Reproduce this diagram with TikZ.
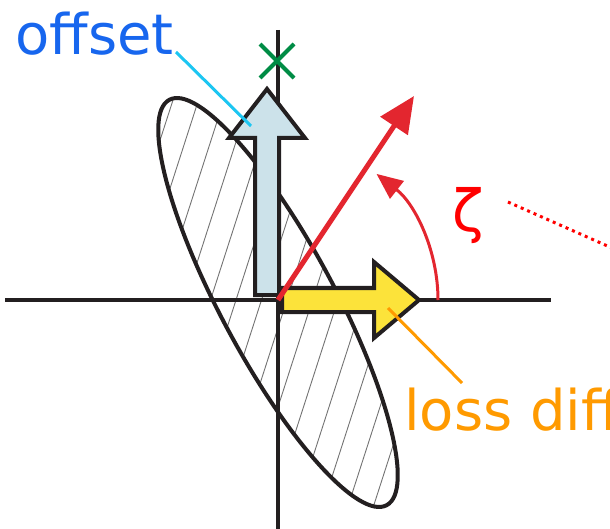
\documentclass[tikz,border=0pt]{standalone}
\usepackage{fontspec}
\setmainfont{DejaVu Sans}
\usepackage{xcolor}
\usepackage{tikz}
\usetikzlibrary{arrows.meta,calc}

\definecolor{axisblack}{HTML}{231F20}
\definecolor{offsetblue}{HTML}{1766EE}
\definecolor{offsetcyan}{HTML}{1CC6F2}
\definecolor{arrowblue}{HTML}{CCE2EA}
\definecolor{arrowyellow}{HTML}{FCE33A}
\definecolor{lossorange}{HTML}{FF9A00}
\definecolor{zetared}{HTML}{E3262F}
\definecolor{crossgreen}{HTML}{008C45}

\begin{document}
\begin{tikzpicture}[x=1pt,y=1pt,
  axisline/.style={line width=4pt,draw=axisblack},
  fatarrow/.style={line width=4pt,draw=axisblack,line join=miter},
  leader/.style={line width=3pt},
  hatchline/.style={line width=0.9pt,draw=black!55}]
  \useasboundingbox (0,0) rectangle (610,528);
  \clip (0,0) rectangle (610,528);
  \coordinate (O) at (278,228);
  \coordinate (C) at (278,225.5);
  % hatched ellipse
  \begin{scope}
    \clip (C) ellipse[x radius=230,y radius=57,rotate=-61.8];
    \foreach \k in {-12,...,12}
      \draw[hatchline] ($(O)+(9+25.5*\k-90,-279)$) -- ($(O)+(9+25.5*\k+90,279)$);
  \end{scope}
  \draw[line width=4pt,draw=axisblack] (C) ellipse[x radius=230,y radius=57,rotate=-61.8];
  % axes
  \coordinate (xleft) at (5,228);
  \coordinate (xright) at (551,228);
  \coordinate (ytop) at (278,498);
  \coordinate (ybot) at (278,-5);
  \draw[axisline] (xleft) -- (xright);
  \draw[axisline] (ytop) -- (ybot);
  % offset arrow
  \filldraw[fatarrow,fill=arrowblue] (255,233) -- (255,390) -- (229,390)
    -- (267,439) -- (305,390) -- (279,390) -- (279,233) -- cycle;
  % loss diff arrow
  \filldraw[fatarrow,fill=arrowyellow] (282,216) -- (374,216) -- (374,190)
    -- (419,228) -- (374,266) -- (374,240) -- (282,240) -- cycle;
  % rotated direction
  \coordinate (redtip) at (414,432);
  \draw[zetared,line width=5pt,-{Triangle[length=36pt,width=32pt]}] (O) -- (redtip);
  \draw[zetared,line width=3pt,-{Triangle[length=26pt,width=22pt]}] (438,228) arc (0:52:160);
  % cross
  \coordinate (cross) at (277,467);
  \draw[crossgreen,line width=4pt] ($(cross)+(-17,17)$) -- ($(cross)+(17,-17)$);
  \draw[crossgreen,line width=4pt] ($(cross)+(-17,-17)$) -- ($(cross)+(17,17)$);
  % labels
  \node[inner sep=0,anchor=base west,text=offsetblue,font=\fontsize{56}{62}\selectfont] (offsetlabel) at (15,473) {offset};
  \node[inner sep=0,anchor=base west,text=lossorange,font=\fontsize{56}{62}\selectfont] (losslabel) at (404,98) {loss diff};
  \node[inner sep=0,text=red,font=\fontsize{58}{64}\selectfont] (zetalabel) at (468,312) {ζ};
  \coordinate (offsetfrom) at (176,476);
  \coordinate (offsetto) at (251,402);
  \coordinate (lossfrom) at (462,145);
  \coordinate (lossto) at (388,220);
  \draw[leader,offsetcyan] (offsetfrom) -- (offsetto);
  \draw[leader,lossorange] (lossfrom) -- (lossto);
  \coordinate (dotend) at (612,280);
  \draw[red,line width=3pt,dash pattern=on 3pt off 4pt] (zetalabel.east) ++(24,14) -- (dotend);
\end{tikzpicture}
\end{document}
